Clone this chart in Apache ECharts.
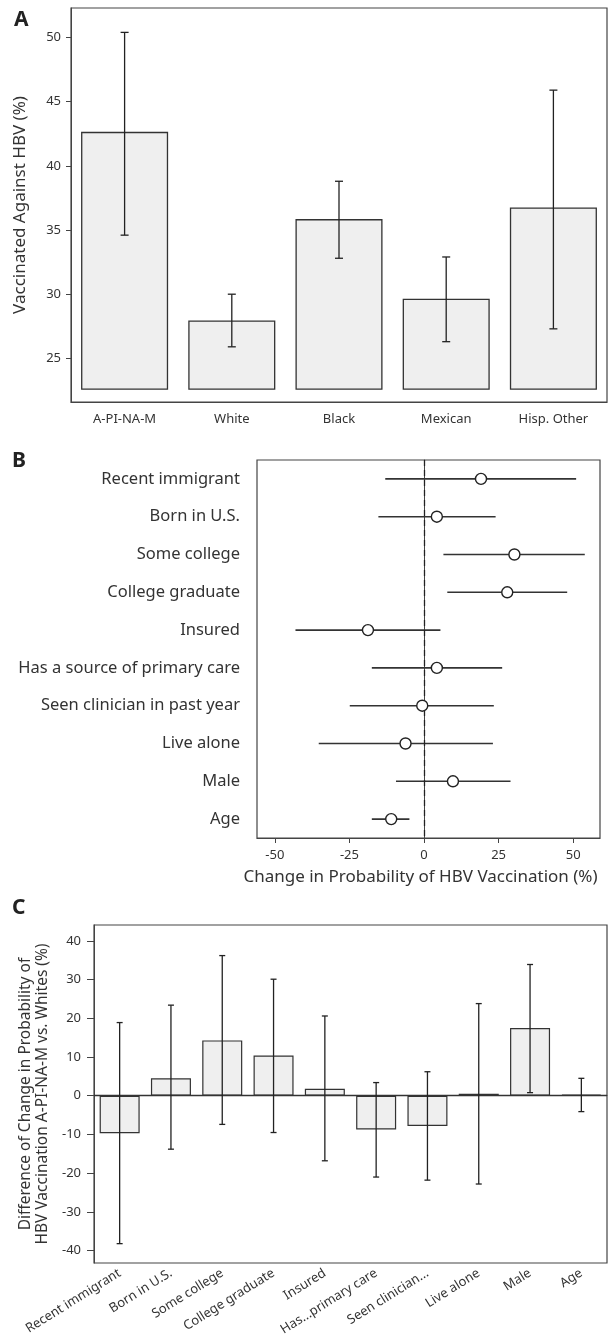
<!DOCTYPE html>
<html><head><meta charset="utf-8">
<script src="https://cdn.jsdelivr.net/npm/echarts@6/dist/echarts.min.js"></script>
<style>html,body{margin:0;padding:0;background:#fff}#c{width:610px;height:1341px}</style>
</head><body><div id="c"></div>
<script>
// Panel A
const groupsA = ['A-PI-NA-M', 'White', 'Black', 'Mexican', 'Hisp. Other'];
const valuesA = [42.6, 27.9, 35.8, 29.6, 36.7];
const lowA = [34.6, 25.9, 32.8, 26.3, 27.3];
const highA = [50.4, 30.0, 38.8, 32.9, 45.9];
const baseA = 22.6;
const ticksA = [25, 30, 35, 40, 45, 50];

// Panel B
const factorsB = ['Recent immigrant', 'Born in U.S.', 'Some college', 'College graduate', 'Insured',
  'Has a source of primary care', 'Seen clinician in past year', 'Live alone', 'Male', 'Age'];
const estB = [19.1, 4.3, 30.3, 27.9, -18.8, 4.3, -0.6, -6.2, 9.7, -11.0];
const lowB = [-13.0, -15.3, 6.5, 7.8, -43.1, -17.5, -24.9, -35.3, -9.4, -17.5];
const highB = [51.0, 24.0, 53.9, 48.0, 5.5, 26.2, 23.4, 23.1, 29.0, -4.9];
const ticksB = [-50, -25, 0, 25, 50];

// Panel C
const factorsC = ['Recent immigrant', 'Born in U.S.', 'Some college', 'College graduate', 'Insured',
  'Has...primary care', 'Seen clinician...', 'Live alone', 'Male', 'Age'];
const diffC = [-9.7, 4.5, 14.3, 10.4, 1.8, -8.7, -7.8, 0.5, 17.5, 0.3];
const lowC = [-38.2, -13.8, -7.4, -9.5, -16.8, -21.0, -21.8, -22.8, 0.8, -4.1];
const highC = [18.9, 23.4, 36.2, 30.1, 20.6, 3.4, 6.2, 23.8, 33.9, 4.5];
const ticksC = [-40, -30, -20, -10, 0, 10, 20, 30, 40];

const FONT = 'Noto Sans';
const INK = '#333';

const chart = echarts.init(document.getElementById('c'), null, {renderer: 'canvas'});

function vErr(capHalf) {
  return function (params, api) {
    const i = api.value(0);
    const lo = api.coord([i, api.value(1)]);
    const hi = api.coord([i, api.value(2)]);
    const ls = {stroke: '#222', lineWidth: 1.3};
    return {type: 'group', children: [
      {type: 'line', shape: {x1: lo[0], y1: lo[1], x2: hi[0], y2: hi[1]}, style: ls},
      {type: 'line', shape: {x1: lo[0] - capHalf, y1: lo[1], x2: lo[0] + capHalf, y2: lo[1]}, style: ls},
      {type: 'line', shape: {x1: hi[0] - capHalf, y1: hi[1], x2: hi[0] + capHalf, y2: hi[1]}, style: ls}
    ]};
  };
}

const option = {
  animation: false,
  textStyle: {fontFamily: FONT, color: INK},
  graphic: [
    {type: 'text', left: 14, top: 10, style: {text: 'A', font: 'bold 21px ' + FONT, fill: '#222'}},
    {type: 'text', left: 12, top: 451, style: {text: 'B', font: 'bold 21px ' + FONT, fill: '#222'}},
    {type: 'text', left: 12, top: 898, style: {text: 'C', font: 'bold 21px ' + FONT, fill: '#222'}}
  ],
  grid: [
    {left: 71, top: 8, width: 536, height: 394, show: true, borderColor: '#444', borderWidth: 1.2},
    {left: 257, top: 460, width: 343, height: 378, show: true, borderColor: '#444', borderWidth: 1.2},
    {left: 94, top: 925, width: 513, height: 338, show: true, borderColor: '#444', borderWidth: 1.2}
  ],
  xAxis: [
    {gridIndex: 0, type: 'category', data: groupsA,
      axisLine: {lineStyle: {color: '#444'}},
      axisTick: {alignWithLabel: true, length: 5, lineStyle: {color: '#444'}},
      axisLabel: {fontSize: 13, color: INK, margin: 11}},
    {gridIndex: 1, type: 'value', min: -56, max: 59,
      axisLine: {show: true, lineStyle: {color: '#444'}},
      axisTick: {show: true, length: 5, customValues: ticksB, lineStyle: {color: '#444'}},
      axisLabel: {fontSize: 13, color: INK, margin: 11, customValues: ticksB},
      splitLine: {show: false},
      name: 'Change in Probability of HBV Vaccination (%)', nameLocation: 'middle', nameGap: 31,
      nameTextStyle: {fontSize: 17, color: INK, padding: [0, 16, 0, 0]}},
    {gridIndex: 2, type: 'category', data: factorsC,
      axisLine: {lineStyle: {color: '#444'}},
      axisTick: {alignWithLabel: true, length: 5, lineStyle: {color: '#444'}},
      axisLabel: {fontSize: 13, color: INK, rotate: 32, margin: 9, interval: 0}}
  ],
  yAxis: [
    {gridIndex: 0, type: 'value', min: 21.6, max: 52.3,
      axisLine: {show: true, lineStyle: {color: '#444'}},
      axisTick: {show: true, length: 5, customValues: ticksA, lineStyle: {color: '#444'}},
      axisLabel: {fontSize: 13, color: INK, margin: 10, customValues: ticksA},
      splitLine: {show: false},
      name: 'Vaccinated Against HBV (%)', nameLocation: 'middle', nameGap: 42, nameRotate: 90,
      nameTextStyle: {fontSize: 17, color: INK}},
    {gridIndex: 1, type: 'category', data: factorsB, inverse: true,
      axisLine: {lineStyle: {color: '#444'}},
      axisTick: {alignWithLabel: true, length: 6, lineStyle: {color: '#444'}},
      axisLabel: {fontSize: 16.5, color: INK, margin: 17, interval: 0}},
    {gridIndex: 2, type: 'value', min: -43.2, max: 44.1,
      axisLine: {show: true, lineStyle: {color: '#444'}},
      axisTick: {show: true, length: 7, customValues: ticksC, lineStyle: {color: '#444'}},
      axisLabel: {fontSize: 13, color: INK, margin: 13, customValues: ticksC},
      splitLine: {show: false},
      name: 'Difference of Change in Probability of\nHBV Vaccination A-PI-NA-M vs. Whites (%)',
      nameLocation: 'middle', nameGap: 41, nameRotate: 90,
      nameTextStyle: {fontSize: 15.5, color: INK, lineHeight: 17}}
  ],
  series: [
    // A bars
    {type: 'custom', xAxisIndex: 0, yAxisIndex: 0,
      data: valuesA.map((v, i) => [i, v]),
      renderItem: function (params, api) {
        const i = api.value(0);
        const p0 = api.coord([i, baseA]);
        const p1 = api.coord([i, api.value(1)]);
        const w = api.size([1, 0])[0] * 0.8;
        return {type: 'rect', shape: {x: p0[0] - w / 2, y: p1[1], width: w, height: p0[1] - p1[1]},
          style: {fill: '#efefef', stroke: '#333', lineWidth: 1.3}};
      }},
    {type: 'custom', xAxisIndex: 0, yAxisIndex: 0, z: 5,
      data: groupsA.map((g, i) => [i, lowA[i], highA[i]]),
      renderItem: vErr(4)},
    // B CIs
    {type: 'custom', xAxisIndex: 1, yAxisIndex: 1,
      data: factorsB.map((f, i) => [lowB[i], highB[i], i]),
      renderItem: function (params, api) {
        const a = api.coord([api.value(0), api.value(2)]);
        const b = api.coord([api.value(1), api.value(2)]);
        return {type: 'line', shape: {x1: a[0], y1: a[1], x2: b[0], y2: b[1]},
          style: {stroke: '#333', lineWidth: 1.6}};
      },
      markLine: {silent: true, symbol: 'none', label: {show: false},
        lineStyle: {type: [6, 4], color: '#222', width: 1.3},
        data: [{xAxis: 0}]}},
    {type: 'scatter', xAxisIndex: 1, yAxisIndex: 1, z: 6,
      data: estB.map((v, i) => [v, i]), symbol: 'circle', symbolSize: 11,
      itemStyle: {color: '#fff', borderColor: '#222', borderWidth: 1.4, opacity: 1}},
    // C bars
    {type: 'bar', xAxisIndex: 2, yAxisIndex: 2, data: diffC, barWidth: '78%',
      itemStyle: {color: '#efefef', borderColor: '#333', borderWidth: 1.2},
      markLine: {silent: true, symbol: 'none', label: {show: false},
        lineStyle: {type: 'solid', color: '#333', width: 1.3},
        data: [{yAxis: 0}]}},
    {type: 'custom', xAxisIndex: 2, yAxisIndex: 2, z: 5,
      data: factorsC.map((f, i) => [i, lowC[i], highC[i]]),
      renderItem: vErr(3)}
  ]
};
chart.setOption(option);
</script>
</body></html>
